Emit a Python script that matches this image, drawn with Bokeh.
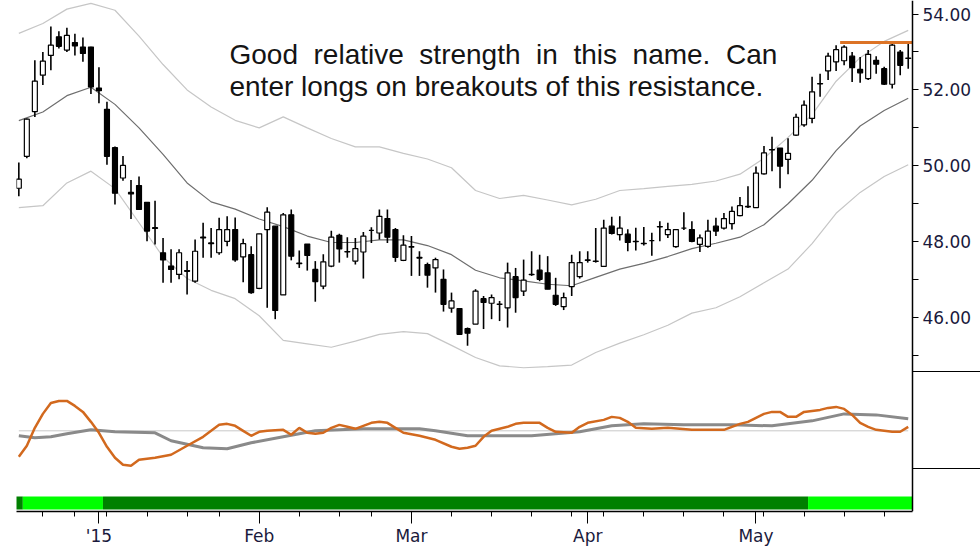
from bokeh.plotting import figure
from bokeh.models import Range1d, LinearAxis, FixedTicker, PrintfTickFormatter, Label, ColumnDataSource
from bokeh.embed import file_html
from bokeh.resources import INLINE

# ---------------- data ----------------
# one candle per trading day, Dec 17 2014 .. May 29 2015 (index 0..111)
opens = [49.41, 50.25, 51.43, 52.39, 52.91, 53.40, 53.05, 53.25, 53.13, 53.13,
         52.05, 51.49, 50.48, 49.68, 49.30, 49.48, 49.04, 48.37, 47.71, 47.36,
         47.14, 47.24, 46.96, 48.10, 47.97, 47.71, 48.01, 48.32, 47.60, 47.66,
         46.77, 48.32, 48.41, 46.60, 48.71, 47.44, 47.94, 47.27, 46.83, 47.36,
         48.17, 47.74, 47.49, 47.73, 48.30, 48.23, 48.61, 48.32, 47.51, 47.87,
         47.59, 47.40, 47.31, 47.01, 46.25, 46.24, 45.71, 45.83, 46.50, 46.38,
         46.36, 46.26, 47.08, 46.70, 47.14, 47.25, 47.18, 46.59, 46.29, 46.82,
         47.08, 47.52, 47.49, 47.35, 48.41, 48.19, 48.20, 48.01, 47.96, 48.03,
         48.40, 48.19, 47.87, 48.36, 48.32, 47.93, 47.88, 48.41, 48.36, 48.48,
         48.69, 48.93, 48.90, 49.79, 50.43, 50.47, 50.17, 50.81, 51.08, 51.25,
         52.17, 52.50, 52.74, 52.77, 52.89, 52.54, 52.30, 52.78, 52.56, 52.15,
         53.00, 52.83]
highs = [50.09, 51.25, 52.78, 53.00, 53.67, 53.55, 53.64, 53.48, 53.38, 53.14,
         52.60, 51.69, 50.51, 50.26, 49.63, 49.72, 49.05, 49.08, 48.10, 47.80,
         47.80, 47.49, 48.06, 48.50, 48.36, 48.63, 48.67, 48.64, 48.08, 47.88,
         48.21, 48.91, 48.41, 48.76, 48.85, 47.77, 47.94, 47.49, 47.67, 48.29,
         48.21, 48.12, 48.10, 48.26, 48.38, 48.85, 48.85, 48.36, 48.17, 48.15,
         47.75, 47.45, 47.58, 47.27, 46.66, 46.24, 45.74, 46.75, 46.57, 46.61,
         46.44, 47.45, 47.31, 47.53, 47.75, 47.66, 47.62, 47.05, 46.66, 47.66,
         47.75, 47.75, 48.36, 48.58, 48.66, 48.67, 48.33, 48.37, 48.39, 48.24,
         48.54, 48.50, 48.32, 48.78, 48.54, 48.19, 48.58, 48.63, 48.76, 48.93,
         49.18, 49.46, 49.98, 50.52, 50.77, 50.47, 50.73, 51.37, 51.72, 52.35,
         52.43, 52.98, 53.18, 53.18, 53.00, 52.87, 53.05, 52.89, 52.61, 53.22,
         53.05, 53.22]
lows = [49.20, 50.20, 51.29, 52.13, 52.52, 53.09, 53.00, 52.91, 52.74, 51.89,
        51.65, 50.03, 48.98, 49.61, 48.60, 48.84, 48.01, 47.93, 46.92, 46.92,
        47.01, 46.61, 46.92, 47.58, 47.58, 47.66, 47.88, 47.47, 46.93, 46.63,
        46.75, 46.26, 45.96, 46.60, 47.51, 47.31, 47.24, 46.42, 46.75, 47.33,
        47.45, 47.58, 47.40, 47.03, 47.97, 48.06, 47.97, 47.47, 47.49, 47.10,
        47.10, 46.79, 46.66, 46.16, 46.13, 45.56, 45.26, 45.83, 45.70, 45.96,
        45.91, 45.74, 46.13, 46.57, 47.10, 46.96, 46.75, 46.31, 46.20, 46.57,
        47.03, 47.45, 47.45, 47.35, 48.19, 48.03, 47.75, 47.77, 47.90, 47.63,
        48.01, 48.10, 47.84, 48.31, 47.99, 47.73, 47.84, 48.15, 48.32, 48.32,
        48.67, 48.89, 48.89, 49.77, 49.86, 49.41, 49.78, 50.79, 51.03, 51.12,
        51.82, 52.26, 52.50, 52.65, 52.21, 52.19, 52.26, 52.43, 52.13, 52.04,
        52.39, 52.56]
closes = [49.65, 51.23, 52.23, 52.76, 53.18, 53.15, 53.44, 53.16, 52.96, 52.08,
          51.98, 50.25, 49.28, 50.01, 49.26, 48.85, 48.28, 48.35, 47.52, 47.27,
          47.71, 47.22, 47.75, 48.12, 47.95, 48.32, 48.32, 47.52, 47.95, 46.66,
          48.21, 48.78, 46.19, 48.71, 47.62, 47.42, 47.64, 46.95, 47.47, 48.12,
          47.81, 47.73, 47.82, 48.15, 48.30, 48.67, 48.12, 47.59, 47.91, 47.86,
          47.57, 47.12, 47.53, 46.35, 46.44, 45.56, 45.59, 46.70, 46.40, 46.53,
          46.35, 47.18, 46.53, 46.99, 47.13, 47.01, 46.75, 46.35, 46.53, 47.45,
          47.45, 47.51, 47.48, 48.36, 48.22, 48.36, 47.98, 48.00, 47.95, 48.03,
          48.39, 48.32, 48.32, 48.36, 48.01, 48.10, 48.28, 48.28, 48.61, 48.80,
          48.95, 48.92, 49.81, 50.34, 50.42, 49.99, 50.33, 51.28, 51.60, 51.95,
          52.16, 52.89, 53.06, 53.13, 52.59, 52.45, 52.94, 52.68, 52.15, 53.18,
          52.65, 52.84]

# channel lines (sampled every 3 sessions)
band_idx = [0, 3, 6, 9, 12, 15, 18, 21, 24, 27, 30, 33, 36, 39, 42, 45, 48, 51, 54,
            57, 60, 63, 66, 69, 72, 75, 78, 81, 84, 87, 90, 93, 96, 99, 102, 105, 108, 111]
band_mid = [51.19, 51.42, 51.85, 52.07, 51.62, 51.00, 50.30, 49.55, 49.05, 48.86,
            48.60, 48.40, 48.15, 47.98, 47.98, 48.05, 48.05, 47.90, 47.66, 47.25,
            47.05, 46.97, 46.88, 46.84, 47.06, 47.28, 47.43, 47.61, 47.82, 47.96,
            48.12, 48.45, 49.00, 49.62, 50.40, 51.05, 51.46, 51.78]
band_up = [53.49, 53.75, 54.13, 54.28, 54.10, 53.42, 52.67, 52.00, 51.55, 51.20,
           51.00, 51.29, 51.00, 50.72, 50.50, 50.50, 50.33, 50.18, 49.95, 49.35,
           49.14, 49.22, 49.10, 48.97, 49.12, 49.35, 49.40, 49.46, 49.51, 49.60,
           49.78, 50.20, 50.75, 51.35, 52.23, 52.85, 53.28, 53.57]
band_lo = [48.90, 48.95, 49.55, 49.86, 49.40, 48.50, 47.60, 47.03, 46.72, 46.50,
           46.05, 45.40, 45.31, 45.22, 45.38, 45.56, 45.63, 45.58, 45.27, 44.95,
           44.73, 44.68, 44.71, 44.75, 45.08, 45.33, 45.55, 45.80, 46.12, 46.26,
           46.55, 46.92, 47.28, 47.95, 48.75, 49.30, 49.72, 50.03]

# oscillator (lower panel)
fast_idx = [0, 1, 2, 3, 4, 5, 6, 7, 8, 9, 10, 11, 12, 13, 14, 15, 16, 17, 19, 21, 23,
            25, 26, 27, 28, 29, 30, 31, 33, 34, 35, 36, 37, 38, 39, 40, 41, 42, 44, 45,
            46, 47, 48, 50, 52, 54, 55, 56, 57, 58, 59, 61, 62, 63, 65, 66, 67, 69, 70,
            71, 73, 74, 75, 76, 77, 79, 81, 84, 88, 90, 91, 92, 93, 94, 95, 96, 97, 98,
            100, 101, 102, 103, 104, 105, 106, 107, 108, 109, 110, 111]
fast_val = [-2.6, -1.5, 0.3, 1.7, 2.8, 3.0, 3.0, 2.5, 1.9, 0.9, -0.2, -1.6, -2.7, -3.4,
            -3.5, -2.9, -2.8, -2.7, -2.4, -1.5, -0.6, 0.6, 0.7, 0.5, 0.0, -0.5, -0.1,
            0.0, 0.1, -0.4, 0.3, -0.2, -0.3, -0.2, 0.3, 0.6, 0.4, 0.2, 0.8, 0.9, 0.8,
            0.3, -0.2, -0.5, -0.9, -1.6, -1.8, -1.7, -1.5, -0.6, 0.0, 0.4, 0.7, 0.8,
            0.8, 0.3, -0.1, -0.2, 0.4, 0.8, 1.1, 1.4, 1.3, 0.9, 0.3, 0.2, 0.3, 0.1,
            0.1, 0.7, 0.9, 1.3, 1.7, 1.9, 1.9, 1.4, 1.4, 1.9, 2.1, 2.3, 2.4, 2.2, 1.6,
            0.8, 0.4, 0.1, 0.0, -0.1, -0.1, 0.4]
slow_idx = [0, 2, 4, 6, 9, 12, 17, 19, 23, 26, 29, 33, 37, 43, 50, 52, 56, 64, 70,
            74, 78, 83, 89, 94, 99, 103, 107, 111]
slow_val = [-0.5, -0.7, -0.6, -0.3, 0.1, -0.1, -0.2, -1.0, -1.7, -1.8, -1.2, -0.6,
            0.0, 0.2, 0.2, 0.0, -0.5, -0.5, -0.1, 0.5, 0.7, 0.6, 0.6, 0.5, 1.0, 1.7,
            1.6, 1.2]

# regime bar (runs of sessions)
regime_start = [0, 1, 11, 99]
regime_end = [0, 10, 98, 111]
regime_color = ["#008000", "#00ff00", "#008000", "#00ff00"]

resistance_level = 53.25
resistance_from = 103

month_tick_idx = [10, 30, 49, 71, 92]
month_labels = ["'15", "Feb", "Mar", "Apr", "May"]
week_tick_idx = [3, 7, 11, 16, 21, 25, 35, 40, 44, 54, 59, 64, 69, 73, 78, 83, 88,
                 93, 98, 103, 108]
price_ticks = [45, 46, 47, 48, 49, 50, 51, 52, 53, 54]
panel_edges = [44.593, 42.021]   # separators of price / indicator panes (price units)

note_line1 = "Good\u00a0 relative\u00a0 strength\u00a0 in\u00a0 this\u00a0 name.\u00a0 Can"
note_line2 = "enter longs on breakouts of this resistance."

# ---------------- figure ----------------
idx = list(range(len(opens)))
x_lo = idx[0] - 0.29          # left edge of the plotting area
x_axis_at = idx[-1] + 0.53    # where the price scale sits
y_lo, y_hi = 40.892, 54.357

p = figure(width=980, height=548,
           min_border_left=16, min_border_right=0, min_border_top=0, min_border_bottom=35,
           x_range=Range1d(x_lo, 120.02), y_range=Range1d(y_lo, y_hi),
           x_axis_location=None, y_axis_location=None,
           output_backend="svg", toolbar_location=None)
p.outline_line_color = None
p.grid.visible = False
p.background_fill_color = "white"
p.border_fill_color = "white"
p.extra_y_ranges = {"osc": Range1d(-8.1, 43.2), "bar": Range1d(-0.154, 39.31)}

# channel
p.line(band_idx, band_up, line_color="#c6c6c6", line_width=1.2)
p.line(band_idx, band_lo, line_color="#c6c6c6", line_width=1.2)
p.line(band_idx, band_mid, line_color="#6e6e6e", line_width=1.2)

# candles
tops = [max(o, c) for o, c in zip(opens, closes)]
bots = [min(o, c) for o, c in zip(opens, closes)]
fills = ["white" if c >= o else "black" for o, c in zip(opens, closes)]
src = ColumnDataSource(dict(i=idx, h=highs, l=lows, top=tops, bot=bots, fill=fills))
p.segment(x0="i", y0="l", x1="i", y1="h", line_color="black", line_width=1.6, source=src)
p.vbar(x="i", width=0.62, top="top", bottom="bot", fill_color="fill",
       line_color="black", line_width=1.2, source=src)

# resistance
p.segment(x0=[resistance_from - 0.5], y0=[resistance_level],
          x1=[idx[-1] + 0.5], y1=[resistance_level],
          line_color="#dc7326", line_width=3)

# oscillator pane
p.line([idx[0], idx[-1]], [0, 0], y_range_name="osc", line_color="#c8c8c8", line_width=1)
p.line(slow_idx, slow_val, y_range_name="osc", line_color="#8a8a8a", line_width=3)
p.line(fast_idx, fast_val, y_range_name="osc", line_color="#d2691e", line_width=2.5)

# regime bar
p.quad(left=[s - 0.5 for s in regime_start], right=[e + 0.5 for e in regime_end],
       bottom=[0] * len(regime_start), top=[1] * len(regime_start),
       fill_color=regime_color, line_color=None, y_range_name="bar")

# annotation
for txt, yv in ((note_line1, 52.94), (note_line2, 52.10)):
    p.add_layout(Label(x=26.29, y=yv, text=txt, text_font="Liberation Sans",
                       text_font_size="28px", text_color="#141414",
                       text_baseline="alphabetic", text_align="left"))

# right price axis (pinned at the right end of the sessions)
yax = LinearAxis(ticker=FixedTicker(ticks=price_ticks, minor_ticks=[]),
                 formatter=PrintfTickFormatter(format="%.2f"),
                 fixed_location=x_axis_at, bounds=(y_lo, y_hi))
yax.major_label_overrides = {t: "" for t in price_ticks if t % 2 == 1}
yax.axis_line_color = "black"
yax.axis_line_width = 1.5
yax.axis_line_alpha = 1.0
yax.major_tick_in = 0
yax.major_tick_out = 6
yax.minor_tick_line_color = None
yax.major_label_standoff = 4
yax.major_label_text_font = "DejaVu Sans"
yax.major_label_text_font_size = "17px"
yax.major_label_text_color = "#1a1a3c"
p.add_layout(yax, "right")

# long pane-separator ticks on the same spot
sax = LinearAxis(ticker=FixedTicker(ticks=panel_edges, minor_ticks=[]),
                 fixed_location=x_axis_at)
sax.axis_line_color = None
sax.major_tick_in = 0
sax.major_tick_out = 68
sax.major_tick_line_color = "black"
sax.minor_tick_line_color = None
sax.major_label_text_color = None
sax.major_label_text_font_size = "1px"
p.add_layout(sax, "right")

# bottom date axis
xax = LinearAxis(ticker=FixedTicker(ticks=month_tick_idx, minor_ticks=week_tick_idx),
                 bounds=(x_lo, x_axis_at))
xax.major_label_overrides = dict(zip(month_tick_idx, month_labels))
xax.axis_line_color = "black"
xax.axis_line_width = 1.5
xax.axis_line_alpha = 1.0
xax.major_tick_in = 0
xax.major_tick_out = 12
xax.minor_tick_in = 0
xax.minor_tick_out = 5
xax.major_label_standoff = 2
xax.major_label_text_font = "DejaVu Sans"
xax.major_label_text_font_size = "17px"
xax.major_label_text_color = "#1a1a3c"
p.add_layout(xax, "below")

open("out.html", "w").write(file_html(p, INLINE))
